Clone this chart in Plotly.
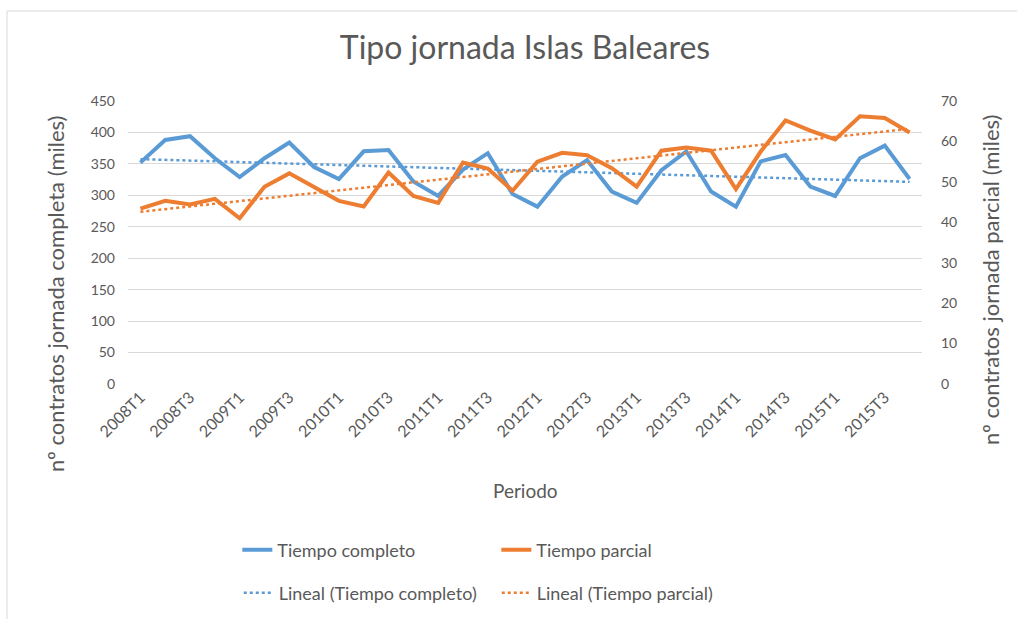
import numpy as np
import plotly.graph_objects as go

periodos = [f"{y}T{q}" for y in range(2008, 2016) for q in range(1, 5)]

tiempo_completo = [352, 388, 394, 359, 329, 359, 384, 345, 326, 370, 372, 322, 299, 341, 367, 302,
                   282, 330, 356, 306, 288, 340, 370, 306, 282, 354, 364, 314, 299, 359, 379, 326]

tiempo_parcial = [43.4, 45.3, 44.4, 45.8, 41.0, 48.8, 52.1, 48.8, 45.3, 43.9, 52.3, 46.5, 44.8, 54.8, 53.3, 47.8,
                  55.0, 57.2, 56.6, 53.4, 48.8, 57.7, 58.5, 57.7, 48.2, 57.5, 65.2, 62.7, 60.5, 66.2, 65.8, 62.2]

left_ticks = [0, 50, 100, 150, 200, 250, 300, 350, 400, 450]
right_ticks = [0, 10, 20, 30, 40, 50, 60, 70]
x_tick_labels = periodos[::2]

BLUE = "#5B9BD5"
ORANGE = "#ED7D31"
GRAY = "#595959"
GRID = "#D9D9D9"
FONT = "Lato, Liberation Sans, sans-serif"

# plot-area pixel geometry (used only to place titles / legends)
PL, PR, PT, PB = 128, 922, 101, 384
PW, PH = PR - PL, PB - PT


def px(x):
    return (x - PL) / PW


def py(y):
    return (PB - y) / PH


idx = np.arange(len(periodos))
fit_c = np.polyval(np.polyfit(idx, tiempo_completo, 1), idx)
fit_p = np.polyval(np.polyfit(idx, tiempo_parcial, 1), idx)

fig = go.Figure()
fig.add_trace(go.Scatter(x=periodos, y=tiempo_completo, name="Tiempo completo", mode="lines",
                         line=dict(color=BLUE, width=4), legend="legend"))
fig.add_trace(go.Scatter(x=periodos, y=tiempo_parcial, name="Tiempo parcial", mode="lines",
                         line=dict(color=ORANGE, width=4), yaxis="y2", legend="legend"))
fig.add_trace(go.Scatter(x=periodos, y=fit_c, name="Lineal (Tiempo completo)", mode="lines",
                         line=dict(color=BLUE, width=2.5, dash="dot"), legend="legend2"))
fig.add_trace(go.Scatter(x=periodos, y=fit_p, name="Lineal (Tiempo parcial)", mode="lines",
                         line=dict(color=ORANGE, width=2.5, dash="dot"), yaxis="y2", legend="legend2"))

fig.update_layout(
    width=1017, height=619,
    margin=dict(l=PL, r=1017 - PR, t=PT, b=619 - PB, autoexpand=False),
    paper_bgcolor="white", plot_bgcolor="white",
    font=dict(family=FONT, color=GRAY),
    title=dict(text="Tipo jornada Islas Baleares", x=0.5, xref="paper", y=1 - 48 / 619, yanchor="middle",
               font=dict(size=32, color=GRAY, family=FONT)),
    xaxis=dict(type="category", range=[-0.5, 31.5], tickmode="array", tickvals=x_tick_labels,
               ticktext=x_tick_labels, tickangle=-45, tickfont=dict(size=16, color=GRAY),
               showgrid=False, showline=False, zeroline=False, ticks="", automargin=False),
    yaxis=dict(range=[0, 450], tickvals=left_ticks, showgrid=True, gridcolor=GRID, gridwidth=1,
               zeroline=False, showline=False, tickfont=dict(size=14, color=GRAY), ticklabelstandoff=12,
               automargin=False),
    yaxis2=dict(range=[0, 70], tickvals=right_ticks, overlaying="y", side="right", showgrid=False,
                zeroline=False, showline=False, tickfont=dict(size=14, color=GRAY), ticklabelstandoff=18,
                automargin=False),
    legend=dict(orientation="h", x=0.1377, xanchor="left", y=py(550), yanchor="middle",
                font=dict(size=18, color=GRAY), entrywidth=214, bgcolor="rgba(0,0,0,0)"),
    legend2=dict(orientation="h", x=0.1395, xanchor="left", y=py(593), yanchor="middle",
                 font=dict(size=18, color=GRAY), entrywidth=213, bgcolor="rgba(0,0,0,0)"),
    annotations=[
        dict(text="Periodo", xref="paper", yref="paper", x=0.5, y=py(490), showarrow=False,
             xanchor="center", yanchor="middle", font=dict(size=19, color=GRAY)),
        dict(text="nº contratos jornada completa (miles)", xref="paper", yref="paper", x=px(55), y=py(294),
             textangle=-90, showarrow=False, xanchor="center", yanchor="middle", font=dict(size=22, color=GRAY)),
        dict(text="nº contratos jornada parcial (miles)", xref="paper", yref="paper", x=px(990), y=py(280),
             textangle=-90, showarrow=False, xanchor="center", yanchor="middle", font=dict(size=22, color=GRAY)),
    ],
    shapes=[dict(type="rect", xref="paper", yref="paper", x0=px(7), x1=px(1040),
                 y0=py(640), y1=py(11), line=dict(color="#D9D9D9", width=1), layer="below")],
)

fig.write_html("out.html", config={"displayModeBar": False},
               post_script="document.body.style.margin='0';document.body.style.overflow='hidden';")
